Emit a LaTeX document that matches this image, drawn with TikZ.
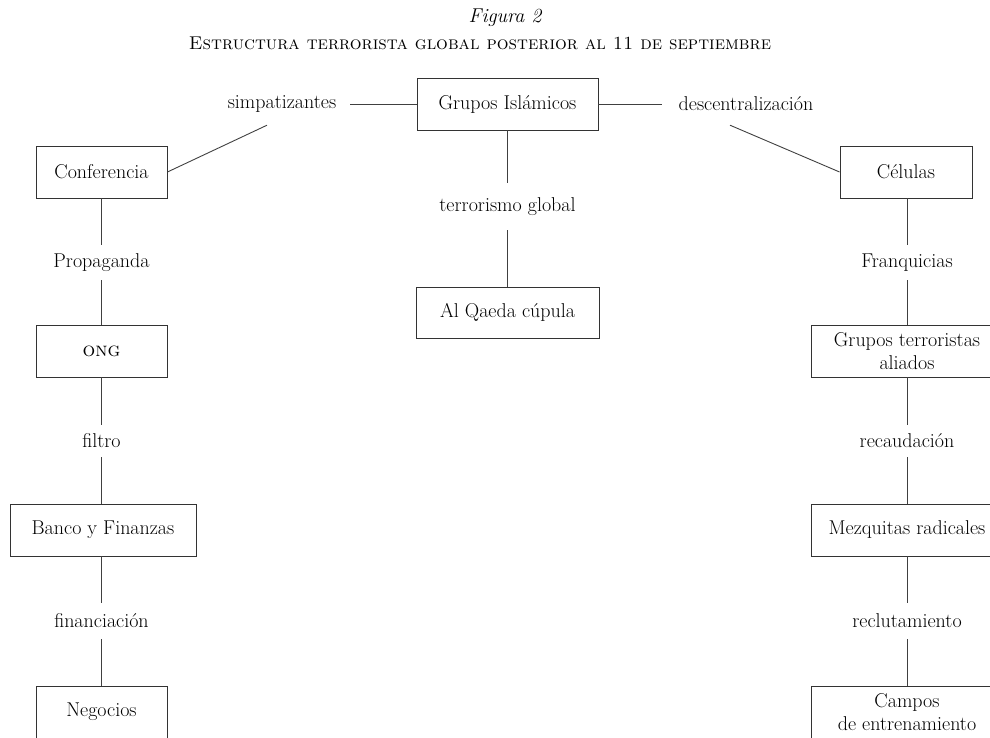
\documentclass[tikz,border=0pt]{standalone}
\begin{document}
\begin{tikzpicture}[x=1pt,y=-1pt,
  box/.style={draw=black!80, line width=0.9pt, minimum height=52pt, inner sep=0pt, align=center, font=\fontsize{20}{23}\selectfont},
  lbl/.style={inner xsep=15pt, inner ysep=0pt, minimum height=36pt, font=\fontsize{20}{23}\selectfont},
  conn/.style={draw=black!75, line width=0.9pt}]
\clip (0,0) rectangle (990,738);
% titles
\node (t1) at (505,18) {\fontsize{20}{22}\selectfont\itshape Figura 2};
\node (t2) at (480,43) {\fontsize{18.5}{20}\selectfont\textsc{Estructura terrorista global posterior al 11 de septiembre}};
% boxes
\node[box, minimum width=181pt] (gi) at (507.5,104) {Grupos Islámicos};
\node[box, minimum width=183pt, minimum height=51pt] (aq) at (507.5,312.5) {Al Qaeda cúpula};
\node[box, minimum width=131pt] (conf) at (101.5,172) {Conferencia};
\node[box, minimum width=131pt] (ong) at (101.5,351) {\textsc{ong}};
\node[box, minimum width=186pt] (banco) at (103,530) {Banco y Finanzas};
\node[box, minimum width=131pt] (neg) at (101.5,712) {Negocios};
\node[box, minimum width=132pt] (cel) at (906,172) {Células};
\node[box, minimum width=192pt] (gta) at (907,351) {Grupos terroristas\\aliados};
\node[box, minimum width=192pt] (mez) at (907,530) {Mezquitas radicales};
\node[box, minimum width=192pt] (camp) at (907,712) {Campos\\de entrenamiento};
% labels
\node[lbl, inner xsep=14pt] (simp) at (282,104) {simpatizantes};
\node[lbl, inner xsep=16pt] (desc) at (746,104) {descentralización};
\node[lbl, minimum height=47pt] (tg) at (507.5,206.5) {terrorismo global};
\node[lbl, minimum height=35pt] (prop) at (101.5,262.5) {Propaganda};
\node[lbl, minimum height=32pt] (filt) at (101.5,441) {filtro};
\node[lbl] (fin) at (101.5,621) {financiación};
\node[lbl, minimum height=35pt] (fran) at (907,262.5) {Franquicias};
\node[lbl, minimum height=32pt] (rec) at (907,441) {recaudación};
\node[lbl] (recl) at (907,621) {reclutamiento};
% connectors
\path[conn] (gi.west) -- (simp.east);
\path[conn] (gi.east) -- (desc.west);
\path[conn] ([xshift=-15pt,yshift=-3pt]simp.south) -- (conf.east);
\path[conn] ([xshift=-16pt,yshift=-3pt]desc.south) -- (cel.west);
\path[conn] (gi.south) -- (tg.north);
\path[conn] (tg.south) -- (aq.north);
\path[conn] (conf.south) -- (prop.north);
\path[conn] (prop.south) -- (ong.north);
\path[conn] (ong.south) -- (filt.north);
\path[conn] (filt.south) -- (banco.north -| filt.south);
\path[conn] (banco.south -| fin.north) -- (fin.north);
\path[conn] (fin.south) -- (neg.north);
\path[conn] (cel.south -| fran.north) -- (fran.north);
\path[conn] (fran.south) -- (gta.north);
\path[conn] (gta.south) -- (rec.north);
\path[conn] (rec.south) -- (mez.north);
\path[conn] (mez.south) -- (recl.north);
\path[conn] (recl.south) -- (camp.north);
\end{tikzpicture}
\end{document}
